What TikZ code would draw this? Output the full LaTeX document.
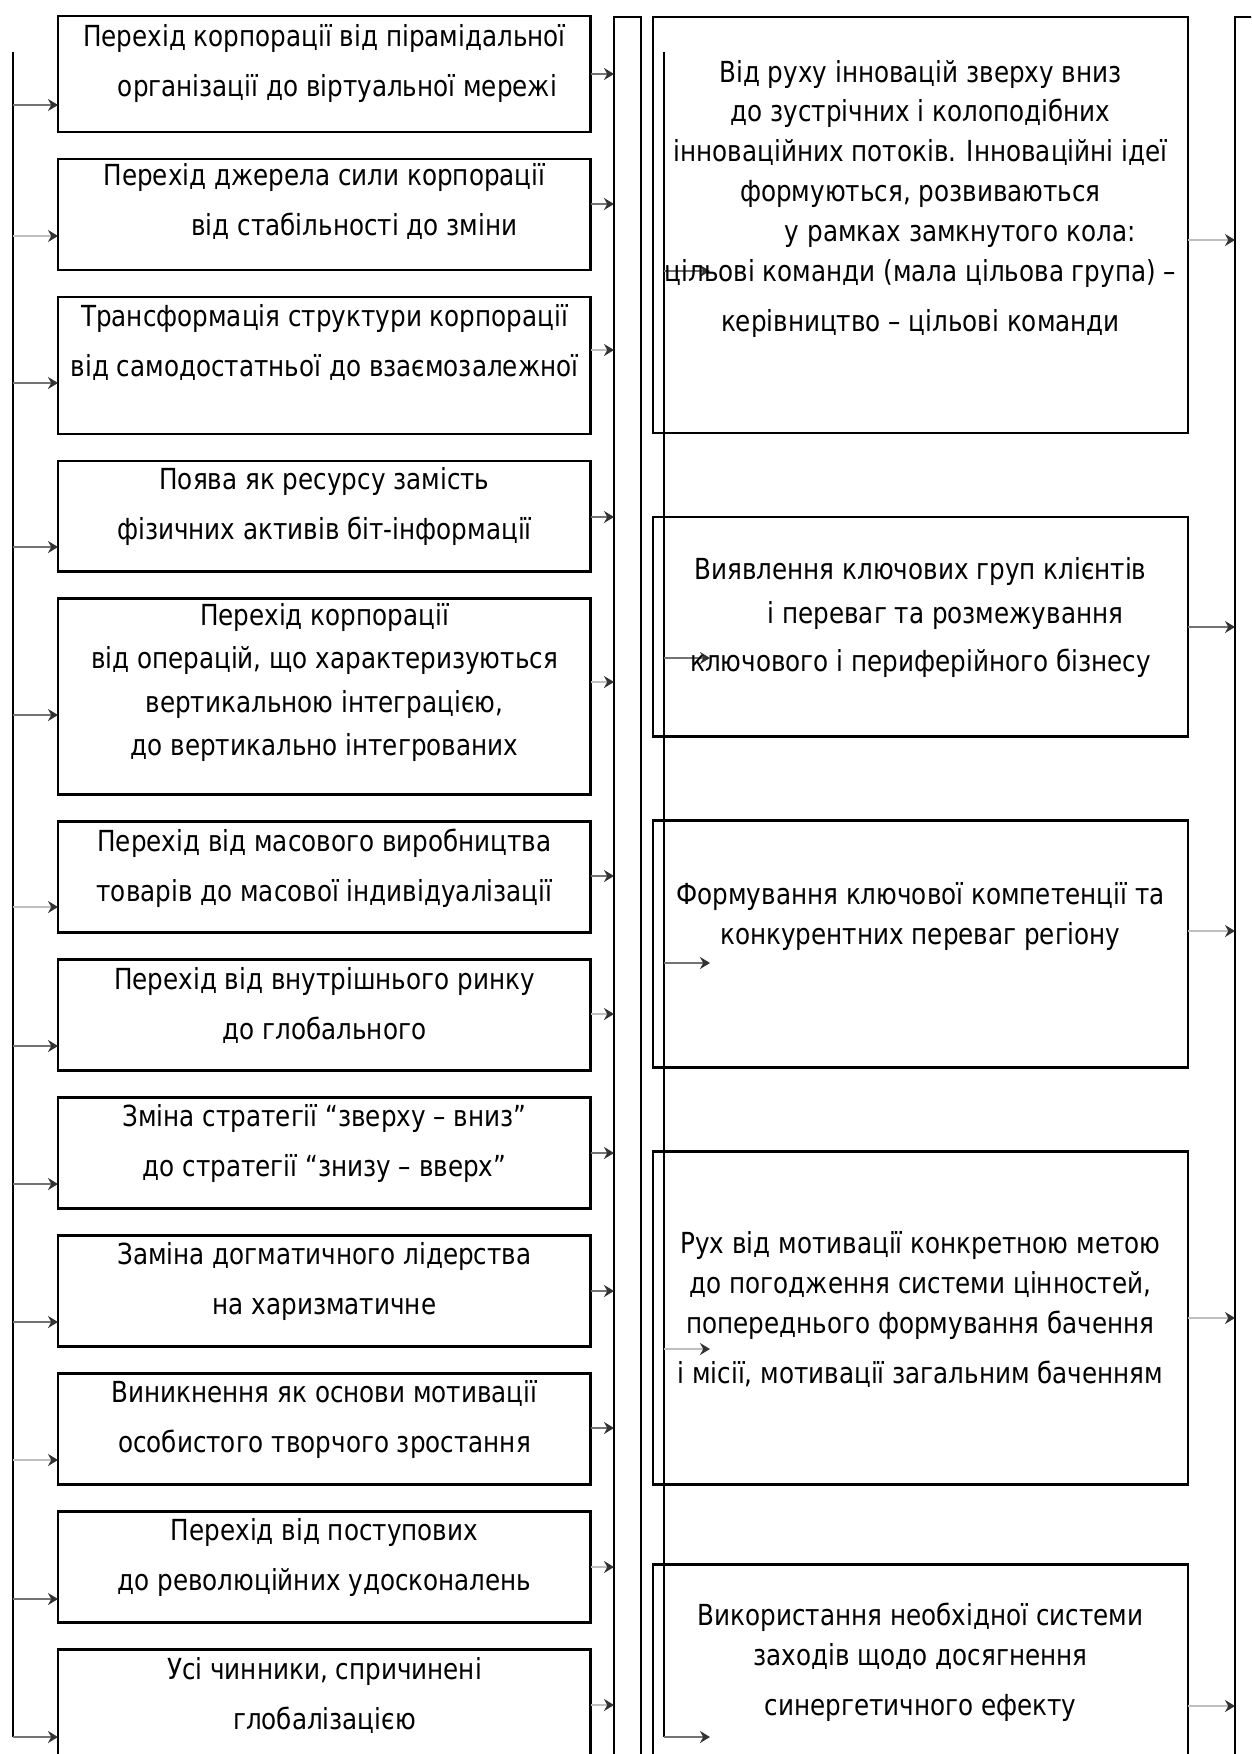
\documentclass[tikz,border=0pt]{standalone}
\usepackage{fontspec}
\setmainfont{DejaVu Sans}[FakeStretch=0.85]
\usetikzlibrary{arrows.meta,positioning}

\begin{document}
\begin{tikzpicture}[
    x=0.02cm, y=-0.02cm,
    node distance=0.54cm,
    lbox/.style={draw, line width=1.6pt, minimum width=10.66cm, minimum height=2.22cm, inner sep=0pt, outer sep=0pt},
    mbox/.style={draw, line width=1.6pt, minimum width=10.7cm, inner sep=0pt, outer sep=0pt},
    bar/.style={draw, line width=1.6pt, minimum width=0.54cm, minimum height=36cm, inner sep=0pt, outer sep=0pt, anchor=north west},
    ltxt/.style={inner sep=0pt, align=center, font=\fontsize{16.5}{28.45}\selectfont, yshift=-0.92cm},
    mtxt/.style={inner sep=0pt, align=center, font=\fontsize{16.5}{22.76}\selectfont},
    spine/.style={line width=1.6pt},
    link/.style={line width=1.1pt, draw=black!55, -{Stealth[length=0.2cm, width=0.24cm, color=black!80]}},
    link2/.style={link, draw=black!25}
]
\useasboundingbox (0,0) rectangle (1251,1754);
\clip (0,0) rectangle (1251,1754);

\node[lbox, anchor=north west, minimum height=2.32cm] (l1) at (58,16) {};
\node[lbox, below=of l1] (l2) {};
\node[lbox, below=of l2, minimum height=2.74cm] (l3) {};
\node[lbox, below=of l3] (l4) {};
\node[lbox, below=of l4, minimum height=3.92cm] (l5) {};
\node[lbox, below=of l5] (l6) {};
\node[lbox, below=of l6] (l7) {};
\node[lbox, below=of l7] (l8) {};
\node[lbox, below=of l8] (l9) {};
\node[lbox, below=of l9] (l10) {};
\node[lbox, below=of l10] (l11) {};
\node[lbox, below=of l11] (l12) {};

\node[bar] (cA) at (614,17) {};
\node[bar] (cB) at (1235,17) {};

\node[mbox, anchor=north west, minimum height=8.32cm] (mA) at (653,17) {};
\node[mbox, below=1.68cm of mA, minimum height=4.4cm] (mB) {};
\node[mbox, below=1.68cm of mB, minimum height=4.94cm] (mC) {};
\node[mbox, below=1.68cm of mC, minimum height=6.66cm] (mD) {};
\node[mbox, below=1.6cm of mD, minimum height=5cm] (mE) {};

\coordinate (lsp) at (13,52);
\coordinate (isp) at (664,52);
\draw[spine] (lsp) -- (lsp |- 0,1737);
\draw[spine] (isp) -- (isp |- 0,1737);

\draw[link] (lsp |- 0,105) -- (l1.west |- 0,105);
\draw[link2] (lsp |- 0,236) -- (l2.west |- 0,236);
\draw[link] (lsp |- 0,383) -- (l3.west |- 0,383);
\draw[link] (lsp |- 0,547) -- (l4.west |- 0,547);
\draw[link] (lsp |- 0,715) -- (l5.west |- 0,715);
\draw[link2] (lsp |- 0,907) -- (l6.west |- 0,907);
\draw[link] (lsp |- 0,1046) -- (l7.west |- 0,1046);
\draw[link] (lsp |- 0,1184) -- (l8.west |- 0,1184);
\draw[link] (lsp |- 0,1322) -- (l9.west |- 0,1322);
\draw[link2] (lsp |- 0,1460) -- (l10.west |- 0,1460);
\draw[link] (lsp |- 0,1599) -- (l11.west |- 0,1599);
\draw[link] (lsp |- 0,1737) -- (l12.west |- 0,1737);

\draw[link] (l1.east |- 0,74) -- (cA.west |- 0,74);
\draw[link] (l2.east |- 0,204) -- (cA.west |- 0,204);
\draw[link2] (l3.east |- 0,350) -- (cA.west |- 0,350);
\draw[link] (l4.east |- 0,517) -- (cA.west |- 0,517);
\draw[link2] (l5.east |- 0,682) -- (cA.west |- 0,682);
\draw[link] (l6.east |- 0,876) -- (cA.west |- 0,876);
\draw[link2] (l7.east |- 0,1014) -- (cA.west |- 0,1014);
\draw[link] (l8.east |- 0,1153) -- (cA.west |- 0,1153);
\draw[link] (l9.east |- 0,1291) -- (cA.west |- 0,1291);
\draw[link] (l10.east |- 0,1428) -- (cA.west |- 0,1428);
\draw[link2] (l11.east |- 0,1567) -- (cA.west |- 0,1567);
\draw[link2] (l12.east |- 0,1705) -- (cA.west |- 0,1705);

\draw[link] (isp |- 0,271) -- +(46,0);
\draw[link] (isp |- 0,658) -- +(46,0);
\draw[link] (isp |- 0,963) -- +(46,0);
\draw[link2] (isp |- 0,1349) -- +(46,0);
\draw[link] (isp |- 0,1737) -- +(46,0);

\draw[link2] (mA.east |- 0,240) -- (cB.west |- 0,240);
\draw[link] (mB.east |- 0,627) -- (cB.west |- 0,627);
\draw[link2] (mC.east |- 0,931) -- (cB.west |- 0,931);
\draw[link2] (mD.east |- 0,1318) -- (cB.west |- 0,1318);
\draw[link2] (mE.east |- 0,1706) -- (cB.west |- 0,1706);

\node[ltxt, yshift=-0.03cm] (t1) at (l1.north) {Перехід корпорації від пірамідальної\\\hspace*{0.52cm}організації до віртуальної мережі};
\node[ltxt, yshift=0.06cm] (t2) at (l2.north) {Перехід джерела сили корпорації\\\hspace*{1.2cm}від стабільності до зміни};
\node[ltxt] (t3) at (l3.north) {Трансформація структури корпорації\\від самодостатньої до взаємозалежної};
\node[ltxt] (t4) at (l4.north) {Поява як ресурсу замість\\фізичних активів біт-інформації};
\node[ltxt, font=\fontsize{16.5}{24.7}\selectfont, yshift=-0.75cm] (t5) at (l5.north) {Перехід корпорації\\від операцій, що характеризуються\\вертикальною інтеграцією,\\до вертикально інтегрованих};
\node[ltxt] (t6) at (l6.north) {Перехід від масового виробництва\\товарів до масової індивідуалізації};
\node[ltxt] (t7) at (l7.north) {Перехід від внутрішнього ринку\\до глобального};
\node[ltxt] (t8) at (l8.north) {Зміна стратегії “зверху – вниз”\\до стратегії “знизу – вверх”};
\node[ltxt] (t9) at (l9.north) {Заміна догматичного лідерства\\на харизматичне};
\node[ltxt] (t10) at (l10.north) {Виникнення як основи мотивації\\особистого творчого зростання};
\node[ltxt] (t11) at (l11.north) {Перехід від поступових\\до революційних удосконалень};
\node[ltxt] (t12) at (l12.north) {Усі чинники, спричинені\\глобалізацією};

\node[mtxt, yshift=-3.64cm] (tA) at (mA.north) {Від руху інновацій зверху вниз\\до зустрічних і колоподібних\\інноваційних потоків. Інноваційні ідеї\\формуються, розвиваються\\\hspace*{1.6cm}у рамках замкнутого кола:\\цільові команди (мала цільова група) –\\[0.2cm]керівництво – цільові команди};
\node[mtxt, yshift=-2.02cm] (tB) at (mB.north) {Виявлення ключових груп клієнтів\\[0.08cm]\hspace*{1cm}і переваг та розмежування\\[0.16cm]ключового і периферійного бізнесу};
\node[mtxt, yshift=-1.91cm] (tC) at (mC.north) {Формування ключової компетенції та\\конкурентних переваг регіону};
\node[mtxt, yshift=-3.16cm] (tD) at (mD.north) {Рух від мотивації конкретною метою\\до погодження системи цінностей,\\попереднього формування бачення\\[0.2cm]і місії, мотивації загальним баченням};
\node[mtxt, yshift=-1.96cm] (tE) at (mE.north) {Використання необхідної системи\\заходів щодо досягнення\\[0.2cm]синергетичного ефекту};
\end{tikzpicture}
\end{document}
